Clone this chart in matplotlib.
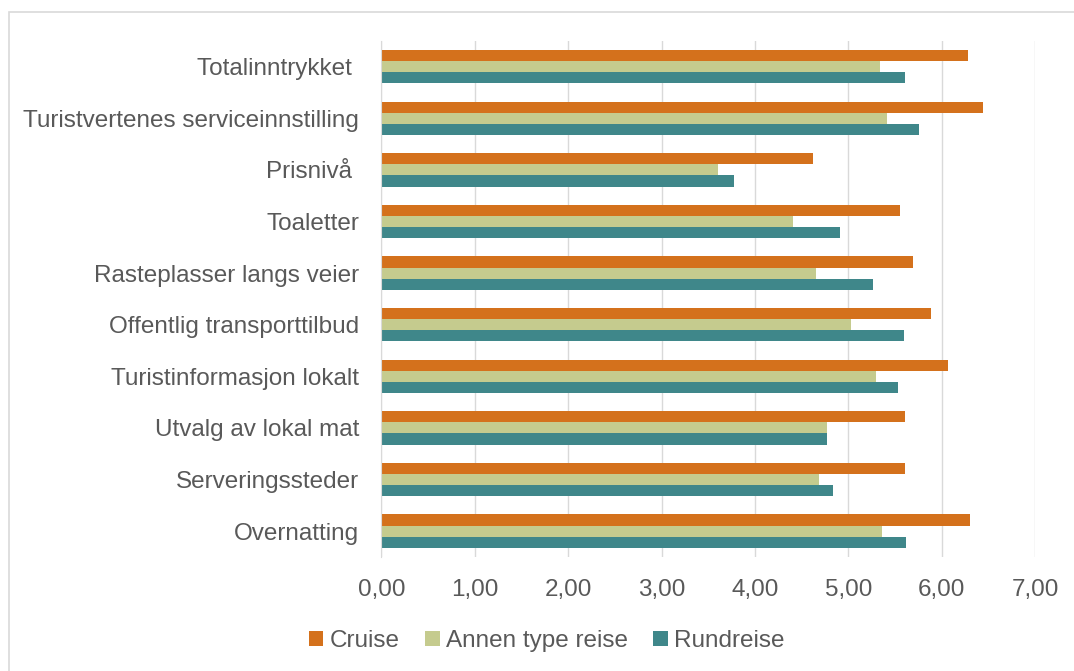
import matplotlib.pyplot as plt
import numpy as np

plt.rcParams['font.family'] = ['Liberation Sans', 'DejaVu Sans']

categories = ['Totalinntrykket ', 'Turistvertenes serviceinnstilling', 'Prisnivå ',
              'Toaletter', 'Rasteplasser langs veier', 'Offentlig transporttilbud',
              'Turistinformasjon lokalt', 'Utvalg av lokal mat', 'Serveringssteder',
              'Overnatting']
cruise = [6.28, 6.44, 4.62, 5.55, 5.69, 5.88, 6.06, 5.61, 5.60, 6.30]
annen = [5.34, 5.41, 3.60, 4.41, 4.65, 5.03, 5.29, 4.77, 4.68, 5.36]
rundreise = [5.61, 5.75, 3.78, 4.91, 5.26, 5.59, 5.53, 4.77, 4.83, 5.62]
series = ['Cruise', 'Annen type reise', 'Rundreise']
colors = ['#D4711C', '#C5CB8E', '#3F878A']
xticks = np.arange(0, 8, 1)

txt = '#595959'
fs = 17.5
fig = plt.figure(figsize=(10.74, 6.71), dpi=100)
ax = fig.add_axes([0.355, 0.17, 0.609, 0.769])

y = np.arange(len(categories))
h = 0.215
for k, (vals, name, c) in enumerate(zip([cruise, annen, rundreise], series, colors)):
    ax.barh(y + (k - 1) * h, vals, height=h, color=c, label=name, zorder=3)

ax.set_xlim(0, 7)
ax.set_ylim(len(categories) - 0.5, -0.5)
ax.set_yticks(y)
ax.set_yticklabels(categories, fontsize=fs, color=txt)
ax.set_xticks(xticks)
ax.set_xticklabels([f'{v:.2f}'.replace('.', ',') for v in xticks], fontsize=fs, color=txt)
ax.tick_params(axis='y', length=0, pad=16)
ax.tick_params(axis='x', length=0, pad=16)
ax.grid(axis='x', color='#D9D9D9', linewidth=1, zorder=0)
for s in ['top', 'right', 'bottom']:
    ax.spines[s].set_visible(False)
ax.spines['left'].set_color('#D9D9D9')
ax.spines['left'].set_zorder(4)

fig.legend(loc='lower center', bbox_to_anchor=(0.509, -0.004), ncol=3, frameon=False,
           fontsize=fs, labelcolor=txt, handlelength=0.6, handleheight=0.6,
           handletextpad=0.25, columnspacing=1.05)

# outer frame, cut off at the right and bottom edges like the source image
border = plt.Rectangle((0.008, -0.05), 1.1, 1.032, transform=fig.transFigure,
                       fill=False, edgecolor='#D9D9D9', linewidth=1.2)
fig.add_artist(border)

fig.savefig('out.png', dpi=100)
